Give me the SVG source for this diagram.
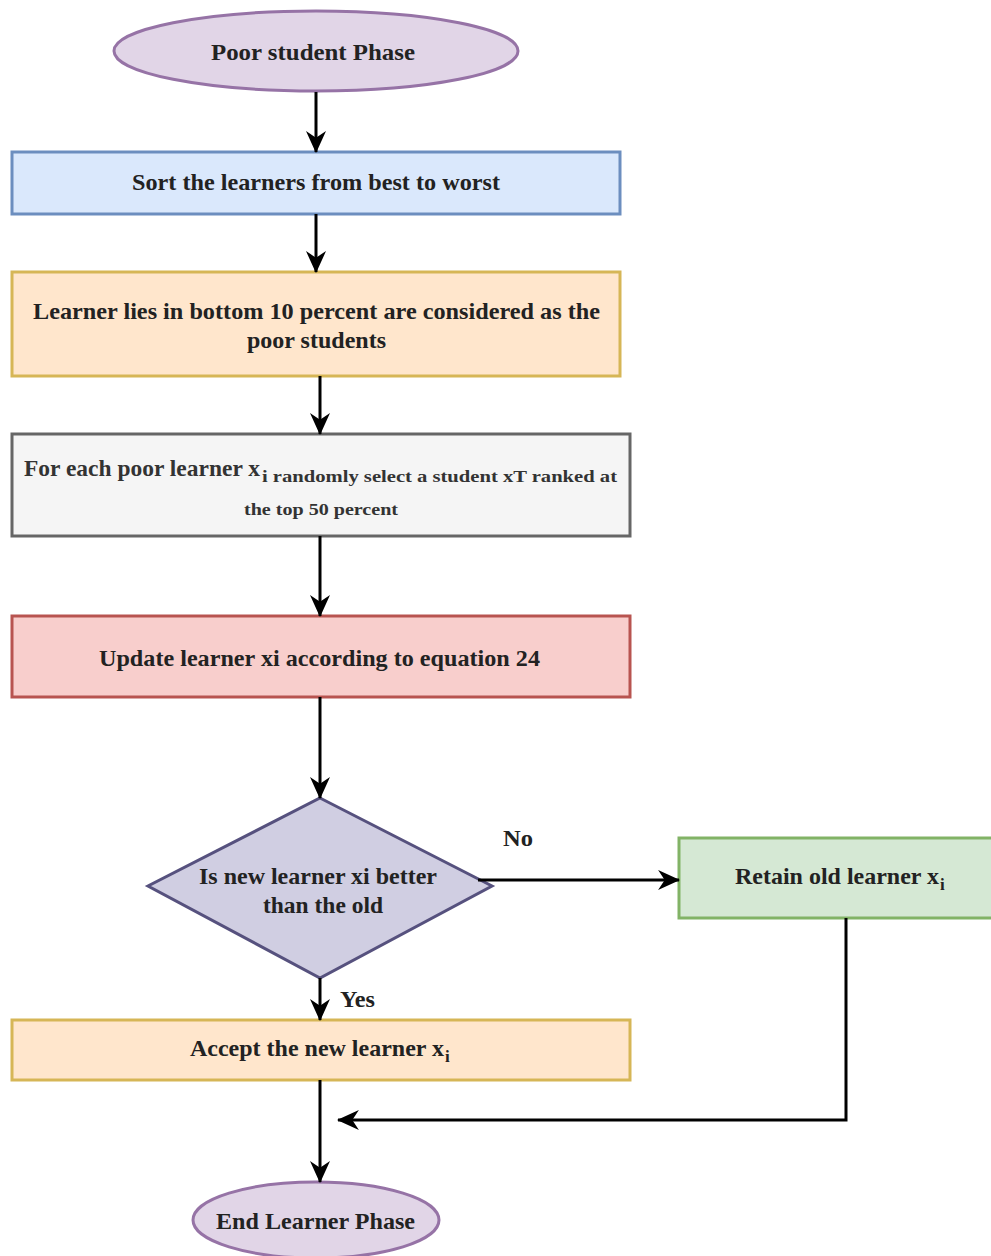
<svg xmlns="http://www.w3.org/2000/svg" width="991" height="1256" viewBox="0 0 991 1256">
<defs>
<marker id="ah" viewBox="0 0 10 10" refX="9.5" refY="5" markerWidth="22" markerHeight="20" markerUnits="userSpaceOnUse" orient="auto" preserveAspectRatio="none">
<path d="M0,0 L10,5 L0,10 L3,5 Z" fill="#000"/>
</marker>
<style>
text{font-family:'Liberation Serif','Times New Roman',serif;font-size:23px;font-weight:bold;fill:#222;text-anchor:start}
.s{font-size:17px}
.m{fill:#333}
.c{stroke:#000;stroke-width:3;fill:none;marker-end:url(#ah)}
.n{stroke-width:3}
</style>
</defs>
<rect width="991" height="1256" fill="#fff"/>
<g id="start"><ellipse class="n" cx="316" cy="51" rx="202" ry="40" fill="#e1d5e7" stroke="#9673a6"/><text x="211" y="60" textLength="204" lengthAdjust="spacingAndGlyphs">Poor student Phase</text></g>
<g id="sort"><rect class="n" x="12" y="152" width="608" height="62" fill="#dae8fc" stroke="#6c8ebf"/><text x="132" y="190" textLength="368" lengthAdjust="spacingAndGlyphs">Sort the learners from best to worst</text></g>
<g id="bottom"><rect class="n" x="12" y="272" width="608" height="104" fill="#ffe6cc" stroke="#d6b656"/><text x="33" y="319" textLength="567" lengthAdjust="spacingAndGlyphs">Learner lies in bottom 10 percent are considered as the</text><text x="247" y="348" textLength="139" lengthAdjust="spacingAndGlyphs">poor students</text></g>
<g id="foreach"><rect class="n" x="12" y="434" width="618" height="102" fill="#f5f5f5" stroke="#666666"/><text class="m" x="24" y="476" textLength="236" lengthAdjust="spacingAndGlyphs">For each poor learner x</text><text class="s m" x="262" y="482" textLength="355" lengthAdjust="spacingAndGlyphs">i randomly select a student xT ranked at</text><text class="s m" x="244" y="515" textLength="154" lengthAdjust="spacingAndGlyphs">the top 50 percent</text></g>
<g id="update"><rect class="n" x="12" y="616" width="618" height="81" fill="#f8cecc" stroke="#b85450"/><text x="99" y="666" textLength="441" lengthAdjust="spacingAndGlyphs">Update learner xi according to equation 24</text></g>
<g id="decision"><path class="n" d="M320,798 L492,886 L320,978 L148,886 Z" fill="#d0cee2" stroke="#56517e"/><text x="199" y="884" textLength="238" lengthAdjust="spacingAndGlyphs">Is new learner xi better</text><text x="263" y="913" textLength="120" lengthAdjust="spacingAndGlyphs">than the old</text></g>
<g id="retain"><rect class="n" x="679" y="838" width="316" height="80" fill="#d5e8d4" stroke="#82b366"/><text x="735" y="884" textLength="204" lengthAdjust="spacingAndGlyphs">Retain old learner x</text><text class="s" x="940" y="890">i</text></g>
<g id="accept"><rect class="n" x="12" y="1020" width="618" height="60" fill="#ffe6cc" stroke="#d6b656"/><text x="190" y="1056" textLength="254" lengthAdjust="spacingAndGlyphs">Accept the new learner x</text><text class="s" x="445" y="1062">i</text></g>
<g id="end"><ellipse class="n" cx="316" cy="1220" rx="123" ry="38" fill="#e1d5e7" stroke="#9673a6"/><text x="216" y="1229" textLength="199" lengthAdjust="spacingAndGlyphs">End Learner Phase</text></g>
<g id="connectors">
<line class="c" x1="316" y1="92" x2="316" y2="152"/>
<line class="c" x1="316" y1="214" x2="316" y2="272"/>
<line class="c" x1="320" y1="376" x2="320" y2="434"/>
<line class="c" x1="320" y1="536" x2="320" y2="616"/>
<line class="c" x1="320" y1="697" x2="320" y2="798"/>
<line class="c" x1="478" y1="880" x2="679" y2="880"/>
<line class="c" x1="320" y1="978" x2="320" y2="1020"/>
<line class="c" x1="320" y1="1080" x2="320" y2="1182"/>
<polyline class="c" points="846,918 846,1120 338,1120"/>
<text x="503" y="846" textLength="30" lengthAdjust="spacingAndGlyphs">No</text>
<text x="340" y="1007" textLength="35" lengthAdjust="spacingAndGlyphs">Yes</text>
</g>
</svg>
